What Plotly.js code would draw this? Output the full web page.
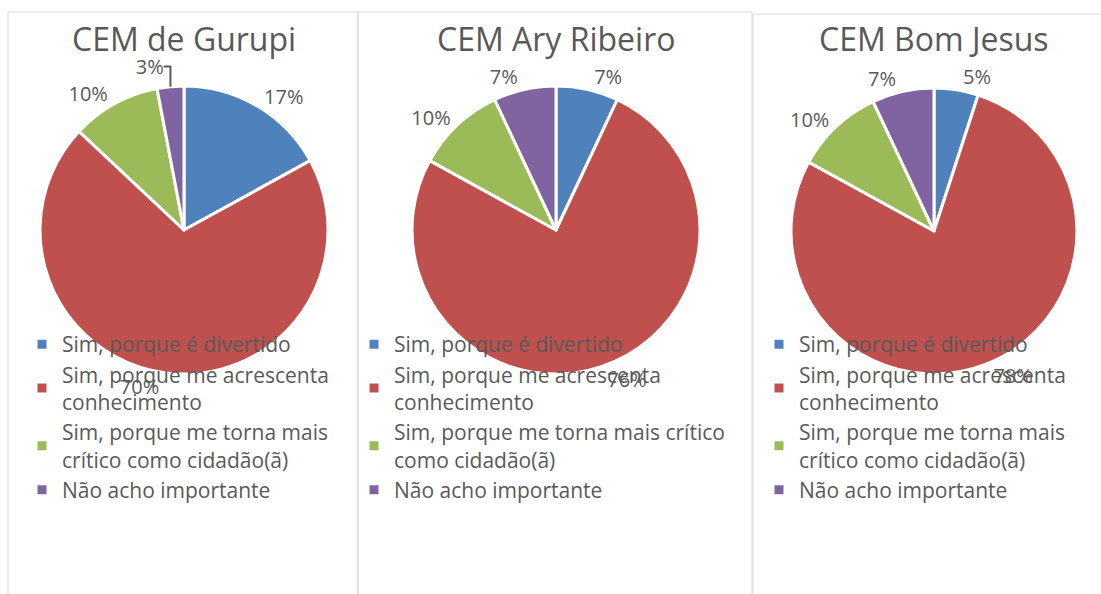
<!DOCTYPE html>
<html>
<head>
<meta charset="utf-8">
<script src="https://cdn.plot.ly/plotly-3.0.1.min.js"></script>
<style>html,body{margin:0;padding:0;background:#fff}#chart{width:1101px;height:594px}</style>
</head>
<body>
<div id="chart"></div>
<script>
// ---- data ----
var schools = ['CEM de Gurupi', 'CEM Ary Ribeiro', 'CEM Bom Jesus'];
var categories = [
  'Sim, porque é divertido',
  'Sim, porque me acrescenta conhecimento',
  'Sim, porque me torna mais crítico como cidadão(ã)',
  'Não acho importante'
];
var legendLabelsNarrow = [
  'Sim, porque é divertido',
  'Sim, porque me acrescenta<br>conhecimento',
  'Sim, porque me torna mais<br>crítico como cidadão(ã)',
  'Não acho importante'
];
var legendLabelsWide = [
  'Sim, porque é divertido',
  'Sim, porque me acrescenta<br>conhecimento',
  'Sim, porque me torna mais crítico<br>como cidadão(ã)',
  'Não acho importante'
];
var valuesGurupi = [17, 70, 10, 3];
var valuesAryRibeiro = [7, 76, 10, 7];
var valuesBomJesus = [5, 78, 10, 7];

// ---- styling ----
var W = 1101, H = 594;
var colors = ['#4F81BD', '#C0504D', '#9BBB59', '#8064A2'];
var textColor = '#595959';
var fontFam = '"Open Sans", "Noto Sans", sans-serif';
function px(x) { return x / W; }
function py(y) { return 1 - y / H; }

var panels = [
  {vals: valuesGurupi, labels: legendLabelsNarrow, cx: 184, top: 86, r: 144, legend: 'legend', lx: 22},
  {vals: valuesAryRibeiro, labels: legendLabelsWide, cx: 556, top: 86, r: 144, legend: 'legend2', lx: 354},
  {vals: valuesBomJesus, labels: legendLabelsNarrow, cx: 934, top: 88, r: 143, legend: 'legend3', lx: 759}
];

// each pie gets its own legend, so each label set is made unique with zero-width spaces
var data = panels.map(function (p, i) {
  var zw = new Array(i + 1).join('\u200b');
  return {
    type: 'pie',
    values: p.vals,
    labels: p.labels.map(function (l) { return l + zw; }),
    hovertext: categories,
    sort: false,
    direction: 'clockwise',
    rotation: 0,
    textinfo: 'percent',
    textposition: 'outside',
    outsidetextfont: {family: fontFam, size: 20, color: textColor},
    marker: {colors: colors, line: {color: '#ffffff', width: 3}},
    domain: {
      x: [px(p.cx - p.r), px(p.cx + p.r)],
      y: [py(p.top + 2 * p.r), py(p.top)]
    },
    legend: p.legend,
    automargin: false,
    name: schools[i]
  };
});

function mkLegend(x) {
  return {
    x: px(x), y: py(324), xanchor: 'left', yanchor: 'top',
    bgcolor: 'rgba(0,0,0,0)',
    font: {family: fontFam, size: 21, color: textColor},
    traceorder: 'normal', valign: 'middle'
  };
}

var shapes = [
  {x0: 8, x1: 358, y0: 12},
  {x0: 358, x1: 752, y0: 12},
  {x0: 753, x1: 1120, y0: 14}
].map(function (s) {
  return {
    type: 'rect', xref: 'paper', yref: 'paper', layer: 'below',
    x0: px(s.x0), x1: px(s.x1), y0: py(s.y0), y1: py(620),
    line: {color: '#d9d9d9', width: 1}, fillcolor: 'rgba(0,0,0,0)'
  };
});

var annotations = panels.map(function (p, i) {
  return {
    text: schools[i], xref: 'paper', yref: 'paper',
    x: px(p.cx), y: py(39), xanchor: 'center', yanchor: 'middle',
    showarrow: false,
    font: {family: fontFam, size: 32, color: textColor}
  };
});

var layout = {
  width: W, height: H,
  margin: {l: 0, r: 0, t: 0, b: 0},
  paper_bgcolor: '#ffffff',
  showlegend: true,
  legend: mkLegend(panels[0].lx),
  legend2: mkLegend(panels[1].lx),
  legend3: mkLegend(panels[2].lx),
  shapes: shapes,
  annotations: annotations,
  font: {family: fontFam, color: textColor}
};

Plotly.newPlot('chart', data, layout, {displayModeBar: false, staticPlot: true});
</script>
</body>
</html>
